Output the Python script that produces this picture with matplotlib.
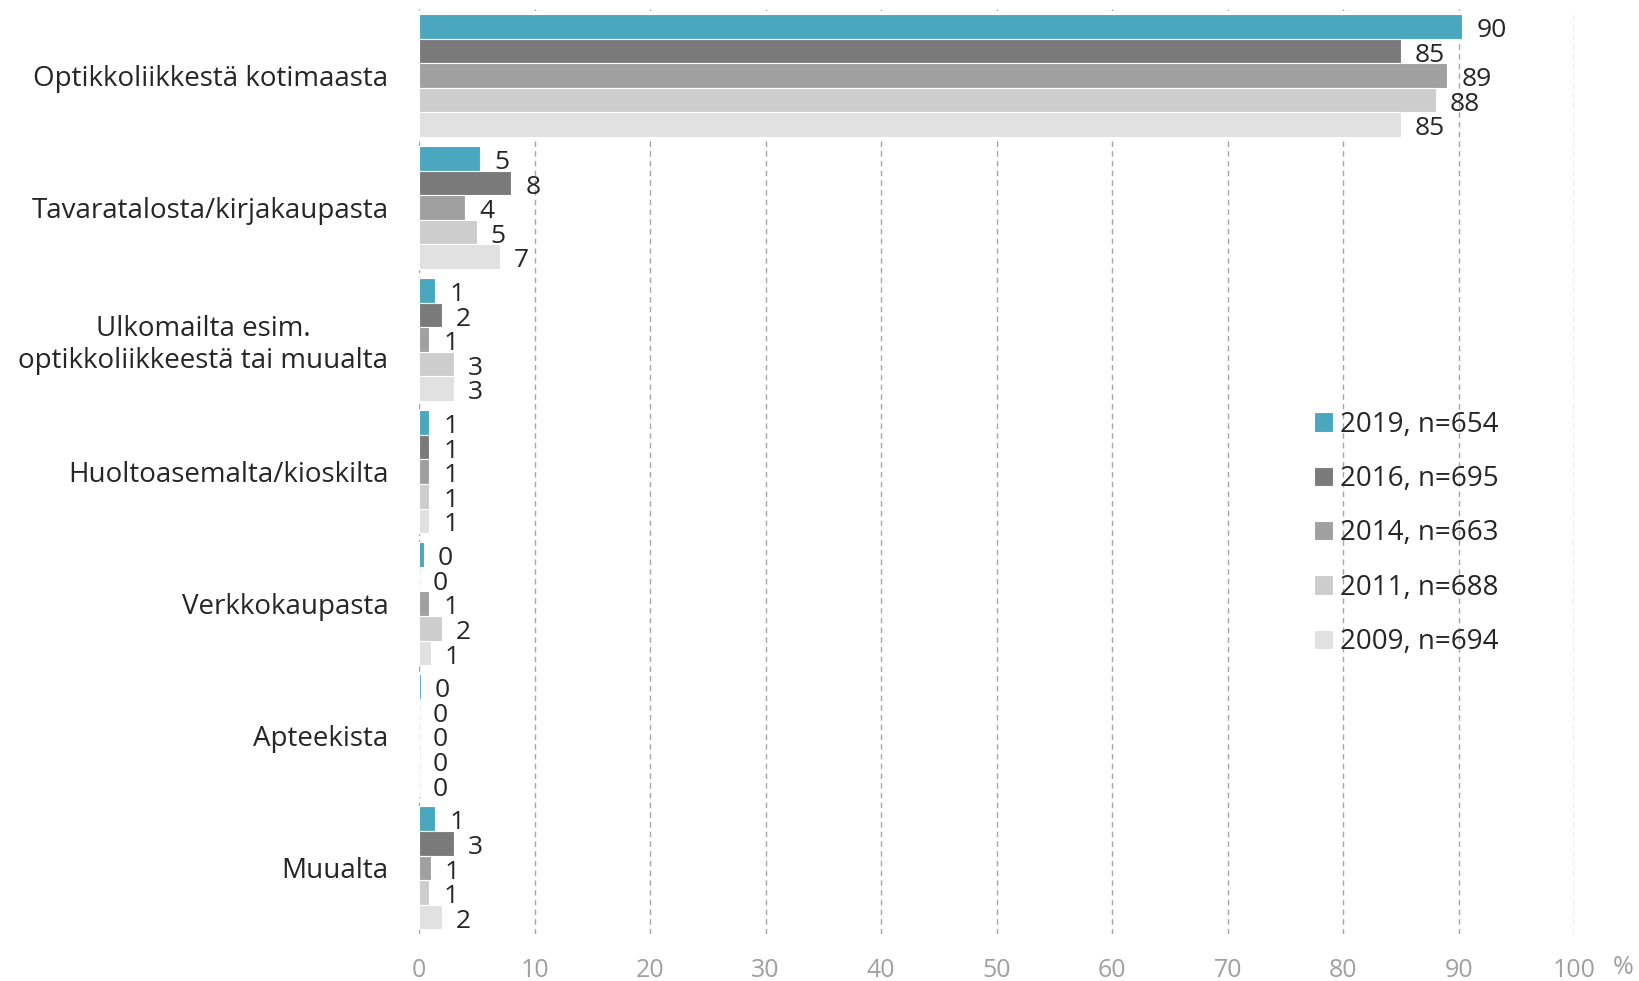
import numpy as np
import matplotlib
matplotlib.use("Agg")
import matplotlib.pyplot as plt

plt.rcParams['font.family'] = ['Open Sans', 'DejaVu Sans']

categories = ["Optikkoliikkestä kotimaasta", "Tavaratalosta/kirjakaupasta",
              "Ulkomailta esim.\noptikkoliikkeestä tai muualta", "Huoltoasemalta/kioskilta",
              "Verkkokaupasta", "Apteekista", "Muualta"]
series = ["2019, n=654", "2016, n=695", "2014, n=663", "2011, n=688", "2009, n=694"]
colors = ["#4BA7BD", "#7A7A7A", "#A0A0A0", "#CDCDCD", "#E1E1E1"]

v2019 = [90.3, 5.3, 1.4, 0.9, 0.4, 0.15, 1.4]
v2016 = [85.0, 8.0, 2.0, 0.9, 0.0, 0.0, 3.0]
v2014 = [89.0, 4.0, 0.9, 0.9, 0.9, 0.0, 1.0]
v2011 = [88.0, 5.0, 3.0, 0.9, 2.0, 0.0, 0.9]
v2009 = [85.0, 7.0, 3.0, 0.9, 1.0, 0.0, 2.0]
values = [v2019, v2016, v2014, v2011, v2009]

fig = plt.figure(figsize=(16.4, 9.81), dpi=100)
ax = fig.add_axes([0.2555, 0.048, 0.7045, 0.9424])

y = np.arange(len(categories))
h = 0.186
for i, vals in enumerate(values):
    pos = y + (i - 2) * h
    bars = ax.barh(pos, vals, height=h, color=colors[i], edgecolor="white",
                   linewidth=0.8, label=series[i], zorder=3)
    for b, v in zip(bars, vals):
        ax.annotate(f"{v:.0f}", (b.get_width(), b.get_y() + b.get_height() / 2),
                    xytext=(10, -3), textcoords="offset points",
                    ha="left", va="center", fontsize=19, color="#262626", zorder=4)

ax.set_ylim(len(categories) - 0.5, -0.5)
ax.set_xlim(0, 100)
ax.set_xticks(range(0, 101, 10))
ax.set_yticks(y)
ax.set_yticklabels(categories, fontsize=20, color="#262626", multialignment="center")
ax.tick_params(axis="y", length=0, pad=22)
ax.tick_params(axis="x", length=0, pad=17, labelsize=18, labelcolor="#A0A0A0")
ax.grid(axis="x", linestyle=(0, (4, 3)), color="#A6A6A6", linewidth=1, zorder=0)
for s in ax.spines.values():
    s.set_visible(False)

fig.text(1623 / 1640, 1 - 968 / 981, "%", ha="center", va="center",
         fontsize=18, color="#A0A0A0")

ax.legend(loc="upper left", bbox_to_anchor=(0.753, 0.593), frameon=False,
          fontsize=20, handlelength=0.7, handleheight=0.7, handletextpad=0.25,
          labelspacing=0.95, labelcolor="#262626")

fig.savefig("out.png")
